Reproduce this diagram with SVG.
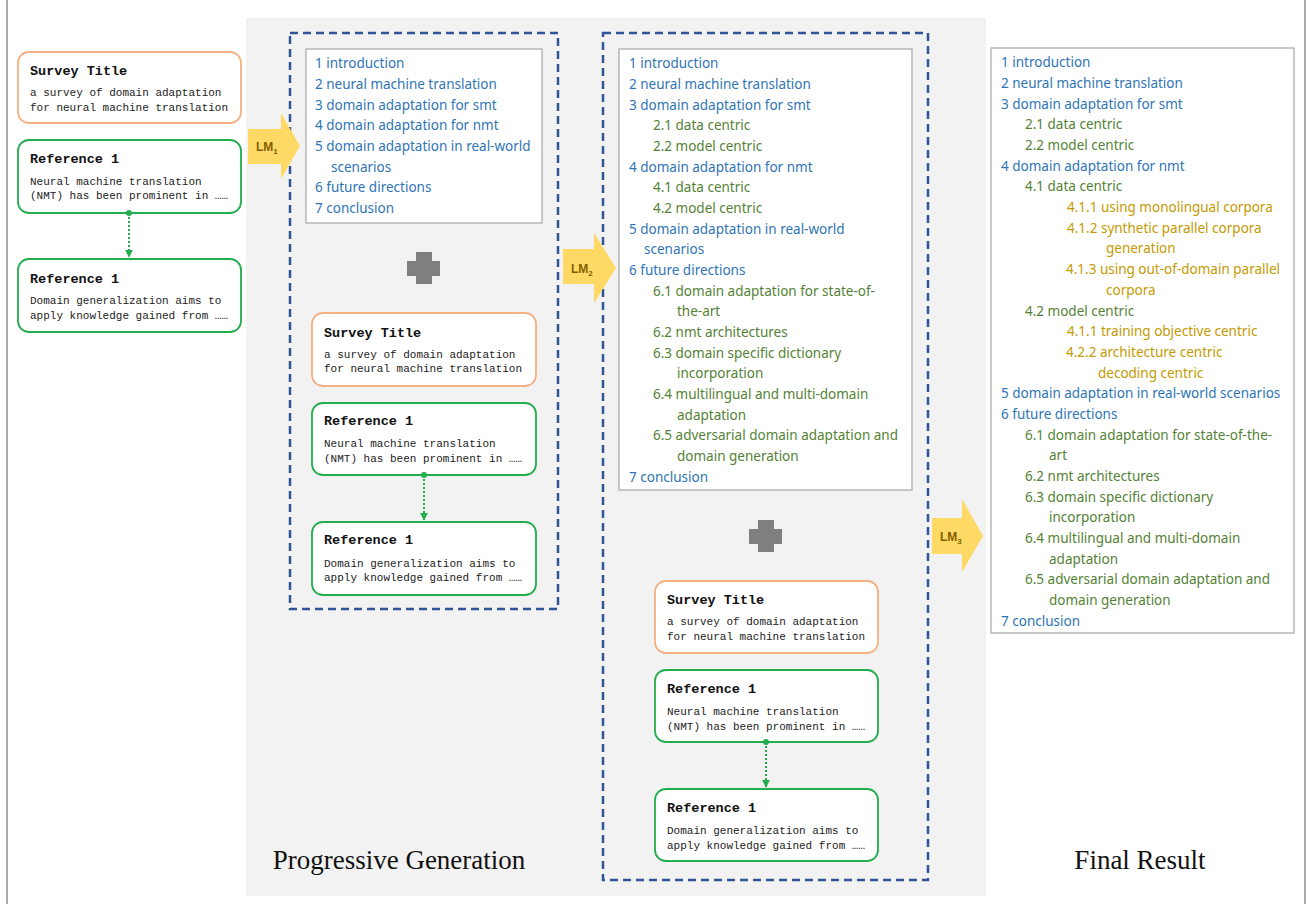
<svg xmlns="http://www.w3.org/2000/svg" width="1307" height="904" viewBox="0 0 1307 904">
<defs>
<style>
.bg{fill:#ffffff}
.panel{fill:#f2f2f2}
.frame{stroke:#8c8c8c;stroke-width:1.5}
.dash{fill:none;stroke:#2f5597;stroke-width:2.5;stroke-dasharray:8 5}
.toc{fill:#ffffff;stroke:#a6a6a6;stroke-width:1.2}
.st{fill:#ffffff;stroke:#f4b183;stroke-width:1.8}
.rf{fill:#ffffff;stroke:#22ad4e;stroke-width:1.8}
.mt{font-family:"Liberation Mono","DejaVu Sans Mono",monospace;font-size:13.5px;font-weight:bold;fill:#111111}
.mb{font-family:"Liberation Mono","DejaVu Sans Mono",monospace;font-size:11px;fill:#222222}
.t{font-family:"Noto Sans","Open Sans",sans-serif;font-size:13.5px}
.b{fill:#2f75b5}
.g{fill:#548235}
.o{fill:#c49a00}
.lm{fill:#ffd966}
.lmt{font-family:"Liberation Sans",Arial,sans-serif;font-weight:bold;font-size:12px;fill:#7f6000}
.plus{fill:#7f7f7f}
.conn{fill:none;stroke:#22ad4e;stroke-width:2;stroke-dasharray:2 2}
.cap{font-family:"Liberation Serif","Times New Roman",serif;font-size:27px;fill:#111111}
</style>
<marker id="ah" viewBox="0 0 10 10" refX="9" refY="5" markerWidth="4" markerHeight="4" orient="auto" markerUnits="strokeWidth">
<path d="M0,0 L10,5 L0,10 z" fill="#22ad4e"/>
</marker>
<marker id="dot" viewBox="0 0 10 10" refX="5" refY="5" markerWidth="3" markerHeight="3" markerUnits="strokeWidth">
<circle cx="5" cy="5" r="5" fill="#22ad4e"/>
</marker>
</defs>
<rect class="bg" x="0" y="0" width="1307" height="904"/>
<rect class="panel" x="246" y="18" width="740" height="878"/>
<line class="frame" x1="7" y1="0" x2="7" y2="904"/>
<line class="frame" x1="1305" y1="0" x2="1305" y2="904"/>

<!-- Left inputs -->
<g id="in-survey">
<rect class="st" x="18" y="52" width="223" height="71" rx="11"/>
<text class="mt" x="30" y="75">Survey Title</text>
<text class="mb" x="30" y="96">a survey of domain adaptation</text>
<text class="mb" x="30" y="111">for neural machine translation</text>
</g>
<g id="in-ref1">
<rect class="rf" x="18" y="140" width="223" height="73" rx="11"/>
<text class="mt" x="30" y="163">Reference 1</text>
<text class="mb" x="30" y="185">Neural machine translation</text>
<text class="mb" x="30" y="199">(NMT) has been prominent in ……</text>
</g>
<g id="in-ref2">
<rect class="rf" x="18" y="259" width="223" height="73" rx="11"/>
<text class="mt" x="30" y="283">Reference 1</text>
<text class="mb" x="30" y="304">Domain generalization aims to</text>
<text class="mb" x="30" y="319">apply knowledge gained from ……</text>
</g>

<!-- Stage 1 -->
<g id="stage1">
<rect class="dash" x="290" y="33" width="268" height="576"/>
</g>
<g id="toc1">
<rect class="toc" x="306" y="49" width="236" height="174"/>
<text class="t b" x="315" y="68.3">1 introduction</text>
<text class="t b" x="315" y="89">2 neural machine translation</text>
<text class="t b" x="315" y="109.6">3 domain adaptation for smt</text>
<text class="t b" x="315" y="130.3">4 domain adaptation for nmt</text>
<text class="t b" x="315" y="151">5 domain adaptation in real-world</text>
<text class="t b" x="331" y="171.6">scenarios</text>
<text class="t b" x="315" y="192.3">6 future directions</text>
<text class="t b" x="315" y="213">7 conclusion</text>
</g>
<g id="plus1">
<path class="plus" d="M416,252 H432 V261 H440 V276 H432 V284 H416 V276 H407 V261 H416 Z"/>
</g>
<g id="s1-survey">
<rect class="st" x="312" y="313" width="224" height="73" rx="11"/>
<text class="mt" x="324" y="337">Survey Title</text>
<text class="mb" x="324" y="358">a survey of domain adaptation</text>
<text class="mb" x="324" y="372">for neural machine translation</text>
</g>
<g id="s1-ref1">
<rect class="rf" x="312" y="403" width="224" height="72" rx="11"/>
<text class="mt" x="324" y="425">Reference 1</text>
<text class="mb" x="324" y="447">Neural machine translation</text>
<text class="mb" x="324" y="462">(NMT) has been prominent in ……</text>
</g>
<g id="s1-ref2">
<rect class="rf" x="312" y="522" width="224" height="73" rx="11"/>
<text class="mt" x="324" y="544">Reference 1</text>
<text class="mb" x="324" y="567">Domain generalization aims to</text>
<text class="mb" x="324" y="581">apply knowledge gained from ……</text>
</g>

<!-- Stage 2 -->
<g id="stage2">
<rect class="dash" x="603" y="33" width="325" height="847"/>
</g>
<g id="toc2">
<rect class="toc" x="619" y="49" width="293" height="441"/>
<text class="t b" x="629" y="68.3">1 introduction</text>
<text class="t b" x="629" y="89">2 neural machine translation</text>
<text class="t b" x="629" y="109.6">3 domain adaptation for smt</text>
<text class="t g" x="653" y="130.3">2.1 data centric</text>
<text class="t g" x="653" y="151">2.2 model centric</text>
<text class="t b" x="629" y="171.6">4 domain adaptation for nmt</text>
<text class="t g" x="653" y="192.3">4.1 data centric</text>
<text class="t g" x="653" y="213">4.2 model centric</text>
<text class="t b" x="629" y="233.6">5 domain adaptation in real-world</text>
<text class="t b" x="644" y="254.3">scenarios</text>
<text class="t b" x="629" y="275">6 future directions</text>
<text class="t g" x="653" y="295.6">6.1 domain adaptation for state-of-</text>
<text class="t g" x="677" y="316.3">the-art</text>
<text class="t g" x="653" y="337">6.2 nmt architectures</text>
<text class="t g" x="653" y="357.6">6.3 domain specific dictionary</text>
<text class="t g" x="677" y="378.3">incorporation</text>
<text class="t g" x="653" y="399">6.4 multilingual and multi-domain</text>
<text class="t g" x="677" y="419.6">adaptation</text>
<text class="t g" x="653" y="440.3">6.5 adversarial domain adaptation and</text>
<text class="t g" x="677" y="461">domain generation</text>
<text class="t b" x="629" y="481.7">7 conclusion</text>
</g>
<g id="plus2">
<path class="plus" d="M758,520 H774 V529 H782 V544 H774 V552 H758 V544 H749 V529 H758 Z"/>
</g>
<g id="s2-survey">
<rect class="st" x="655" y="581" width="223" height="72" rx="11"/>
<text class="mt" x="667" y="604">Survey Title</text>
<text class="mb" x="667" y="625">a survey of domain adaptation</text>
<text class="mb" x="667" y="640">for neural machine translation</text>
</g>
<g id="s2-ref1">
<rect class="rf" x="655" y="670" width="223" height="72" rx="11"/>
<text class="mt" x="667" y="693">Reference 1</text>
<text class="mb" x="667" y="715">Neural machine translation</text>
<text class="mb" x="667" y="730">(NMT) has been prominent in ……</text>
</g>
<g id="s2-ref2">
<rect class="rf" x="655" y="789" width="223" height="72" rx="11"/>
<text class="mt" x="667" y="812">Reference 1</text>
<text class="mb" x="667" y="834">Domain generalization aims to</text>
<text class="mb" x="667" y="849">apply knowledge gained from ……</text>
</g>

<!-- Final result -->
<g id="toc3">
<rect class="toc" x="991" y="48" width="303" height="585"/>
<text class="t b" x="1001" y="67.3">1 introduction</text>
<text class="t b" x="1001" y="88">2 neural machine translation</text>
<text class="t b" x="1001" y="108.7">3 domain adaptation for smt</text>
<text class="t g" x="1025" y="129.3">2.1 data centric</text>
<text class="t g" x="1025" y="150">2.2 model centric</text>
<text class="t b" x="1001" y="170.7">4 domain adaptation for nmt</text>
<text class="t g" x="1025" y="191.4">4.1 data centric</text>
<text class="t o" x="1067" y="212">4.1.1 using monolingual corpora</text>
<text class="t o" x="1067" y="232.7">4.1.2 synthetic parallel corpora</text>
<text class="t o" x="1106" y="253.4">generation</text>
<text class="t o" x="1066" y="274">4.1.3 using out-of-domain parallel</text>
<text class="t o" x="1106" y="294.8">corpora</text>
<text class="t g" x="1025" y="315.5">4.2 model centric</text>
<text class="t o" x="1067" y="336.1">4.1.1 training objective centric</text>
<text class="t o" x="1066" y="356.8">4.2.2 architecture centric</text>
<text class="t o" x="1098" y="377.5">decoding centric</text>
<text class="t b" x="1001" y="398.2">5 domain adaptation in real-world scenarios</text>
<text class="t b" x="1001" y="418.8">6 future directions</text>
<text class="t g" x="1025" y="439.5">6.1 domain adaptation for state-of-the-</text>
<text class="t g" x="1049" y="460.2">art</text>
<text class="t g" x="1025" y="480.8">6.2 nmt architectures</text>
<text class="t g" x="1025" y="501.5">6.3 domain specific dictionary</text>
<text class="t g" x="1049" y="522.2">incorporation</text>
<text class="t g" x="1025" y="542.9">6.4 multilingual and multi-domain</text>
<text class="t g" x="1049" y="563.5">adaptation</text>
<text class="t g" x="1025" y="584.2">6.5 adversarial domain adaptation and</text>
<text class="t g" x="1049" y="604.9">domain generation</text>
<text class="t b" x="1001" y="625.6">7 conclusion</text>
</g>

<!-- Connectors -->
<g id="connectors">
<line class="conn" x1="129" y1="213" x2="129" y2="257" marker-start="url(#dot)" marker-end="url(#ah)"/>
<line class="conn" x1="424" y1="475" x2="424" y2="520" marker-start="url(#dot)" marker-end="url(#ah)"/>
<line class="conn" x1="766" y1="742" x2="766" y2="787" marker-start="url(#dot)" marker-end="url(#ah)"/>
<g id="lm1">
<polygon class="lm" points="248,129 281,129 281,113 300,146 281,179 281,164 248,164"/>
<text class="lmt" x="256" y="151">LM<tspan font-size="8" dy="2.5">1</tspan></text>
</g>
<g id="lm2">
<polygon class="lm" points="563,249 594,249 594,233 616,268 594,303 594,284 563,284"/>
<text class="lmt" x="571" y="273">LM<tspan font-size="8" dy="2.5">2</tspan></text>
</g>
<g id="lm3">
<polygon class="lm" points="932,518 962,518 962,499 983,536 962,572 962,554 932,554"/>
<text class="lmt" x="940" y="541">LM<tspan font-size="8" dy="2.5">3</tspan></text>
</g>
</g>

<g id="captions">
<text class="cap" x="399" y="869" text-anchor="middle">Progressive Generation</text>
<text class="cap" x="1140" y="869" text-anchor="middle">Final Result</text>
</g>
</svg>
